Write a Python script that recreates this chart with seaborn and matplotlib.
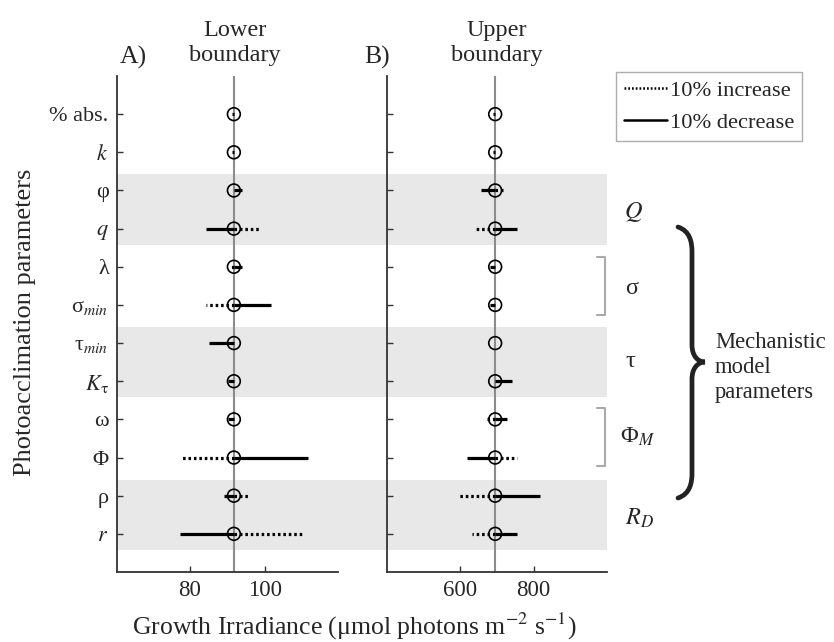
import numpy as np
import pandas as pd
import matplotlib
matplotlib.use("Agg")
import matplotlib.pyplot as plt
from matplotlib.path import Path
from matplotlib.patches import PathPatch
from matplotlib.lines import Line2D
import seaborn as sns

# ---------------- data ----------------
params = ["% abs.", r"$k$", "φ", r"$q$", "λ", r"σ$_{min}$", r"τ$_{min}$",
          r"$K$$_{\mathrm{τ}}$", "ω", "Φ", "ρ", r"$r$"]
lower_base = 91.7
lower_decrease = [91.3, 91.3, 93.8, 84.2, 93.8, 101.7, 85.0, 90.0, 90.2, 111.4, 89.0, 77.3]
lower_increase = [91.7, 91.7, 91.7, 99.0, 90.8, 84.2, 91.7, 91.7, 91.7, 77.3, 95.7, 110.4]
upper_base = 695
upper_decrease = [690, 690, 656, 754, 681, 681, 695, 740, 727, 618, 818, 754]
upper_increase = [695, 695, 717, 644, 695, 695, 695, 695, 668, 754, 592, 632]
band_rows = [(3, 4), (7, 8), (11, 12)]
group_labels = [r"$Q$", "σ", "τ", r"Φ$_M$", r"$R_D$"]
lower_ticks = [80, 100]
upper_ticks = [600, 800]

# ---------------- style ----------------
sns.set_style("ticks")
plt.rcParams["font.family"] = ["Liberation Serif", "DejaVu Serif"]
plt.rcParams["mathtext.fontset"] = "stix"
FS_TICK = 16
FS_TITLE = 17.5
FS_LAB = 18.5

W, H = 834, 642
fig = plt.figure(figsize=(W / 100, H / 100), dpi=100)

def fx(px):
    return px / W

def fy(py):
    return 1 - py / H

ax_top, ax_bot = 76, 572
bottom = fy(ax_bot)
height = (ax_bot - ax_top) / H

# background bands spanning both panels
ax_bg = fig.add_axes([fx(117), bottom, fx(607) - fx(117), height], zorder=0)
ax_bg.set_ylim(13, 0)
ax_bg.set_xlim(0, 1)
ax_bg.axis("off")
for r0, r1 in band_rows:
    ax_bg.axhspan(r0 - 0.42, r1 + 0.42, color="#e8e8e8", lw=0)

axA = fig.add_axes([fx(117), bottom, fx(338) - fx(117), height], zorder=1)
axB = fig.add_axes([fx(387), bottom, fx(607) - fx(387), height], zorder=1)

pos = np.arange(1, len(params) + 1)
dotted = (0, (0.8, 0.9))

def draw_panel(ax, base, dec, inc, xlim, ticks, show_labels):
    ax.set_facecolor("none")
    ax.axvline(base, color="#8c8c8c", lw=1.5, zorder=1)
    df = pd.DataFrame({"pos": pos, "base": base, "dec": dec, "inc": inc})
    ax.hlines(df["pos"], df["base"], df["inc"], colors="black", lw=2.3,
              linestyles=dotted, zorder=2)
    ax.hlines(df["pos"], df["base"], df["dec"], colors="black", lw=2.3,
              linestyles="solid", zorder=3)
    sns.scatterplot(data=df, x="base", y="pos", ax=ax, marker="o", s=85,
                    facecolor="none", edgecolor="black", linewidth=1.2, zorder=4)
    ax.set_xlim(*xlim)
    ax.set_ylim(13, 0)
    ax.set_yticks(pos)
    if show_labels:
        ax.set_yticklabels(params, fontsize=FS_TICK)
    else:
        ax.set_yticklabels([])
    ax.set_xticks(ticks)
    ax.set_xticklabels([str(t) for t in ticks], fontsize=FS_TICK + 0.5)
    ax.set_xlabel("")
    ax.set_ylabel("")
    ax.tick_params(direction="in", length=4, width=1, color="#333333", pad=6)
    for s in ["top", "right"]:
        ax.spines[s].set_visible(False)
    for s in ["left", "bottom"]:
        ax.spines[s].set_color("#333333")
        ax.spines[s].set_linewidth(1.3)

draw_panel(axA, lower_base, lower_decrease, lower_increase, (60.5, 119.5), lower_ticks, True)
draw_panel(axB, upper_base, upper_decrease, upper_increase, (400, 1000), upper_ticks, False)

# titles
fig.text(fx(133), fy(57), "A)", fontsize=FS_TITLE + 1, ha="center", va="center")
fig.text(fx(235), fy(43), "Lower\nboundary", fontsize=FS_TITLE, ha="center", va="center",
         linespacing=1.3)
fig.text(fx(377), fy(57), "B)", fontsize=FS_TITLE + 1, ha="center", va="center")
fig.text(fx(497), fy(43), "Upper\nboundary", fontsize=FS_TITLE, ha="center", va="center",
         linespacing=1.3)

# axis labels
fig.text(fx(25), fy(322), "Photoacclimation parameters", fontsize=FS_LAB + 0.5,
         rotation=90, ha="center", va="center")
fig.text(fx(354), fy(626), "Growth Irradiance (μmol photons m$^{-2}$ s$^{-1}$)",
         fontsize=FS_LAB, ha="center", va="center")

# legend
handles = [Line2D([], [], color="black", lw=1.8, linestyle=(0, (0.7, 0.8))),
           Line2D([], [], color="black", lw=1.8)]
leg = fig.legend(handles, ["10% increase", "10% decrease"], loc="upper left",
                 bbox_to_anchor=(fx(616), fy(72)), fontsize=16.2, frameon=True,
                 fancybox=False, handlelength=1.9, handletextpad=0.15,
                 borderpad=0.35, labelspacing=0.5, borderaxespad=0)
leg.get_frame().set_edgecolor("#999999")
leg.get_frame().set_linewidth(1.0)

# group labels on the right
group_xy = [(633, 212), (632, 288), (630, 362), (637, 437), (640, 518)]
for lab, (x, y) in zip(group_labels, group_xy):
    fig.text(fx(x), fy(y), lab, fontsize=FS_TITLE, ha="center", va="center")

# gray brackets
for y0, y1 in [(257, 315), (408, 466)]:
    xs = [fx(597), fx(605), fx(605), fx(597)]
    ys = [fy(y0), fy(y0), fy(y1), fy(y1)]
    fig.add_artist(Line2D(xs, ys, color="#aaaaaa", lw=1.5, transform=fig.transFigure))

# curly brace
pts = [(678, 227), (690, 231), (692, 242), (692, 252),
       (692, 345),
       (692, 356), (698, 362), (705, 362),
       (698, 362), (692, 368), (692, 379),
       (692, 473),
       (692, 483), (690, 494), (678, 498)]
codes = [Path.MOVETO, Path.CURVE4, Path.CURVE4, Path.CURVE4,
         Path.LINETO,
         Path.CURVE4, Path.CURVE4, Path.CURVE4,
         Path.CURVE4, Path.CURVE4, Path.CURVE4,
         Path.LINETO,
         Path.CURVE4, Path.CURVE4, Path.CURVE4]
brace = Path([(fx(x), fy(y)) for x, y in pts], codes)
fig.add_artist(PathPatch(brace, fc="none", ec="#222222", lw=3.4,
                         transform=fig.transFigure, capstyle="round"))
fig.text(fx(715), fy(368), "Mechanistic\nmodel\nparameters", fontsize=16.3,
         ha="left", va="center", linespacing=1.25)

fig.savefig("out.png", dpi=100)
